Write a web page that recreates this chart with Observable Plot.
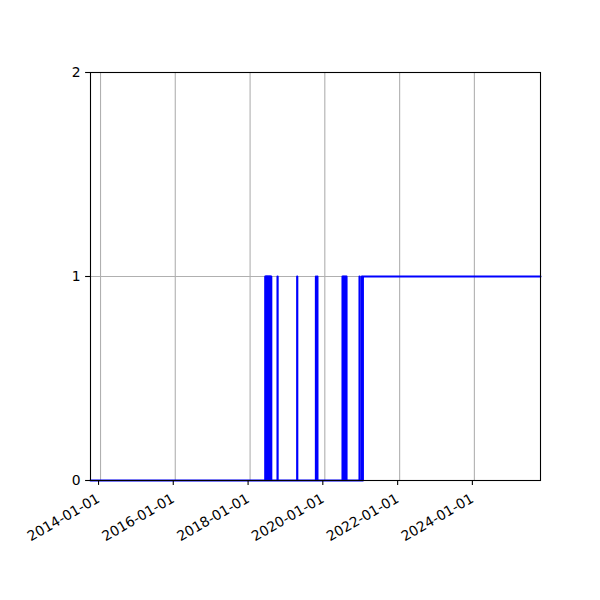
<!DOCTYPE html>
<html>
<head>
<meta charset="utf-8">
<script src="https://cdn.jsdelivr.net/npm/d3@7"></script>
<script src="https://cdn.jsdelivr.net/npm/@observablehq/plot@0.6"></script>
<style>
  html, body { margin: 0; padding: 0; background: #fff; }
  #chart svg { display: block; }
</style>
</head>
<body>
<div id="chart"></div>
<script>
// Change points of the 0/1 series (value holds from each date until the next)
const changeDates = [
  "2013-09-25",
  "2018-05-29","2018-06-01","2018-06-04","2018-06-07","2018-06-10","2018-06-12",
  "2018-06-15","2018-06-18","2018-06-21","2018-06-24","2018-06-27","2018-06-30",
  "2018-07-03","2018-07-06","2018-07-09","2018-07-12","2018-07-15","2018-07-18",
  "2018-07-21","2018-07-27",
  "2018-09-26","2018-09-27",
  "2019-04-06","2019-04-07",
  "2019-10-06","2019-10-08","2019-10-19","2019-10-21",
  "2020-06-22","2020-06-26","2020-06-30","2020-07-05","2020-07-10","2020-07-14",
  "2020-07-20","2020-07-25","2020-07-29","2020-07-31",
  "2020-12-05","2020-12-06",
  "2020-12-28","2021-01-01","2021-01-07",
  "2025-10-08"
];
const changeValues = [
  0,
  1,0,1,0,1,0,
  1,0,1,0,1,0,
  1,0,1,0,1,0,
  1,0,
  1,0,
  1,0,
  1,0,1,0,
  1,0,1,0,1,0,
  1,0,1,0,
  1,0,
  1,0,1,
  1
];
const xTickDates = ["2014-01-01","2016-01-01","2018-01-01","2020-01-01","2022-01-01","2024-01-01"];
const yTicks = [0, 1, 2];

const parse = d3.utcParse("%Y-%m-%d");
const series = changeDates.map((d, i) => ({date: parse(d), value: changeValues[i]}));
const xTicks = xTickDates.map(parse);

const chart = Plot.plot({
  width: 600,
  height: 600,
  marginLeft: 90,
  marginRight: 60,
  marginTop: 72,
  marginBottom: 120,
  style: {fontFamily: "DejaVu Sans, sans-serif", fontSize: "13.9px", background: "#fff", color: "#000"},
  x: {type: "utc", domain: [parse("2013-09-25"), parse("2025-10-08")], label: null},
  y: {domain: [0, 2], label: null},
  marks: [
    Plot.gridX(xTicks, {stroke: "#b0b0b0", strokeOpacity: 1, strokeWidth: 1.1}),
    Plot.gridY(yTicks, {stroke: "#b0b0b0", strokeOpacity: 1, strokeWidth: 1.1}),
    Plot.line(series, {x: "date", y: "value", curve: "step-after", stroke: "#0000ff", strokeWidth: 2.1}),
    Plot.frame({stroke: "#000", strokeWidth: 1.1}),
    Plot.axisX(xTicks, {tickFormat: d3.utcFormat("%Y-%m-%d"), tickRotate: -30, tickSize: 4.9, tickPadding: 12, dx: -2, label: null, strokeWidth: 1.1}),
    Plot.axisY(yTicks, {tickFormat: d3.format("d"), tickSize: 4.9, tickPadding: 4.9, label: null, strokeWidth: 1.1})
  ]
});
document.getElementById("chart").appendChild(chart);
</script>
</body>
</html>
